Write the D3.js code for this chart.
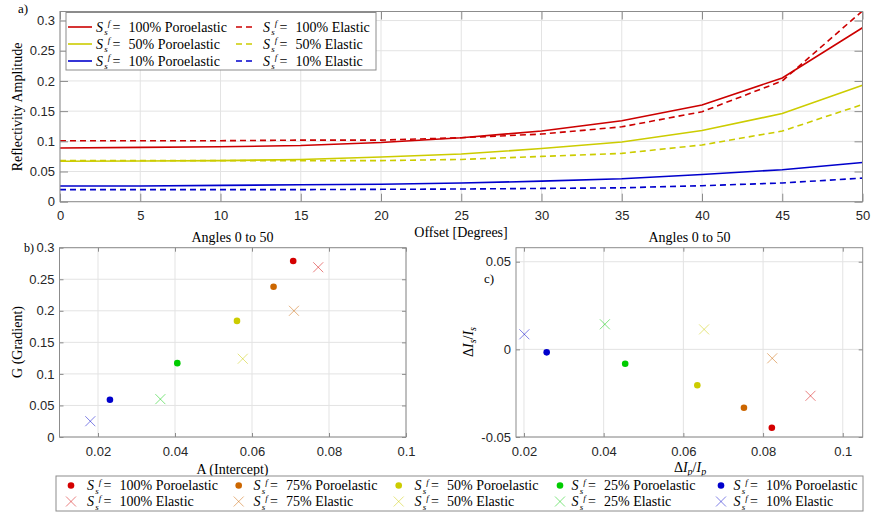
<!DOCTYPE html>
<html><head><meta charset="utf-8">
<script src="https://cdn.jsdelivr.net/npm/d3@7"></script>
<style>
html,body{margin:0;padding:0;background:#fff;}
svg{display:block;}
</style></head>
<body>
<svg id="chart" width="873" height="515"></svg>
<script>
// ---------- DATA ----------
const angles = [0,5,10,15,20,25,30,35,40,45,50];
const poro100 = [0.089,0.090,0.091,0.093,0.098,0.106,0.117,0.134,0.160,0.205,0.288];
const elas100 = [0.101,0.101,0.101,0.102,0.102,0.106,0.112,0.124,0.149,0.200,0.316];
const poro50  = [0.067,0.0675,0.068,0.070,0.074,0.079,0.088,0.099,0.118,0.146,0.193];
const elas50  = [0.068,0.068,0.068,0.068,0.068,0.070,0.075,0.080,0.094,0.117,0.161];
const poro10  = [0.026,0.026,0.027,0.028,0.029,0.031,0.034,0.038,0.045,0.053,0.065];
const elas10  = [0.020,0.020,0.020,0.020,0.0205,0.021,0.022,0.023,0.0265,0.031,0.039];

const topSat = [100,50,10];
const scatSat = [100,75,50,25,10];

const bPoroA = [0.0707,0.0656,0.0561,0.0406,0.0231];
const bPoroG = [0.279,0.238,0.184,0.117,0.059];
const bElasA = [0.0772,0.0709,0.0576,0.0362,0.018];
const bElasG = [0.269,0.200,0.124,0.060,0.025];

const cPoroX = [0.0822,0.0752,0.0635,0.0454,0.0257];
const cPoroY = [-0.0447,-0.0333,-0.0205,-0.0082,-0.0017];
const cElasX = [0.0919,0.0823,0.0652,0.0403,0.0201];
const cElasY = [-0.0265,-0.0051,0.0114,0.0143,0.0086];

const topXTicks = [0,5,10,15,20,25,30,35,40,45,50];
const topYTicks = [0,0.05,0.1,0.15,0.2,0.25,0.3];
const bXTicks = [0.02,0.04,0.06,0.08,0.1];
const bYTicks = [0,0.05,0.1,0.15,0.2,0.25,0.3];
const cXTicks = [0.02,0.04,0.06,0.08,0.1];
const cYTicks = [-0.05,0,0.05];

// ---------- STYLE ----------
const topColors = ['#cc0000','#cccc00','#0000cc'];
const scatColors = ['#d40000','#cc6600','#cccc00','#00cc00','#0000cc'];
const SERIF = "'Liberation Serif','Times New Roman',serif";
const SANS = "'Liberation Sans',Arial,sans-serif";
const AX = '#8c8c8c', TXT = '#262626', GRID = '#e3e3e3';

const svg = d3.select('#chart');

function fmt(v){ return (Math.round(v*1000)/1000).toString(); }

function drawGrid(g, x, y, xt, yt){
  const [x0,x1] = x.range(), [y1,y0] = y.range();
  g.append('g').selectAll('line').data(xt).join('line')
    .attr('x1',d=>x(d)).attr('x2',d=>x(d)).attr('y1',y0).attr('y2',y1)
    .attr('stroke',GRID).attr('stroke-width',1);
  g.append('g').selectAll('line').data(yt).join('line')
    .attr('y1',d=>y(d)).attr('y2',d=>y(d)).attr('x1',x0).attr('x2',x1)
    .attr('stroke',GRID).attr('stroke-width',1);
}
function drawFrame(g, x, y, xt, yt, tl, padB){
  const [x0,x1] = x.range(), [y1,y0] = y.range();
  const axB = d3.axisBottom(x).tickValues(xt).tickSizeInner(-tl).tickSizeOuter(0).tickPadding(padB).tickFormat(fmt);
  const axT = d3.axisTop(x).tickValues(xt).tickSizeInner(-tl).tickSizeOuter(0).tickFormat('');
  const axL = d3.axisLeft(y).tickValues(yt).tickSizeInner(-tl).tickSizeOuter(0).tickPadding(5).tickFormat(fmt);
  const axR = d3.axisRight(y).tickValues(yt).tickSizeInner(-tl).tickSizeOuter(0).tickFormat('');
  const style = s => { s.select('.domain').remove(); s.selectAll('line').attr('stroke',AX);
    s.selectAll('text').attr('fill',TXT).style('font-family',SANS).style('font-size','13px'); };
  g.append('g').attr('transform',`translate(0,${y1})`).call(axB).call(style);
  g.append('g').attr('transform',`translate(0,${y0})`).call(axT).call(style);
  g.append('g').attr('transform',`translate(${x0},0)`).call(axL).call(style);
  g.append('g').attr('transform',`translate(${x1},0)`).call(axR).call(style);
  g.append('rect').attr('x',x0).attr('y',y0).attr('width',x1-x0).attr('height',y1-y0)
    .attr('fill','none').attr('stroke',AX).attr('stroke-width',1);
}

// S_s^f = NN% Kind label, single text element (sub/sup slightly staggered like italic correction)
function satLabel(g, x, y, pct, kind){
  const t = g.append('text').attr('x',x).attr('y',y).style('font-family',SERIF)
    .style('font-size','14px').attr('fill','#000');
  t.append('tspan').attr('x',x).style('font-style','italic').text('S');
  t.append('tspan').attr('x',x+8.3).attr('dy',3.5).style('font-style','italic').style('font-size','9px').text('s');
  t.append('tspan').attr('x',x+11.8).attr('dy',-9).style('font-style','italic').style('font-size','9px').text('f');
  t.append('tspan').attr('x',x+16.5).attr('dy',5.5).text('=');
  t.append('tspan').attr('x',x+32.5).text(pct+'% '+kind);
}

// ---------- PANEL a ----------
const ax = d3.scaleLinear().domain([0,50]).range([60,862.5]);
const ay = d3.scaleLinear().domain([0,0.315]).range([201.7,11.5]);
const ga = svg.append('g');
drawGrid(ga, ax, ay, topXTicks, topYTicks);
svg.append('clipPath').attr('id','clipA').append('rect')
  .attr('x',60).attr('y',11.5).attr('width',802.5).attr('height',190.2);
const lineGen = d3.line().x((d,i)=>ax(angles[i])).y(d=>ay(d));
const topSeries = [
  {v:poro100,c:0,dash:null},{v:elas100,c:0,dash:'6,4'},
  {v:poro50,c:1,dash:null},{v:elas50,c:1,dash:'6,4'},
  {v:poro10,c:2,dash:null},{v:elas10,c:2,dash:'6,4'}];
const lg = ga.append('g').attr('clip-path','url(#clipA)');
topSeries.forEach(s=>{
  lg.append('path').attr('d',lineGen(s.v)).attr('fill','none')
    .attr('stroke',topColors[s.c]).attr('stroke-width',1.6)
    .attr('stroke-dasharray',s.dash);
});
drawFrame(ga, ax, ay, topXTicks, topYTicks, 8, 9);

// legend a
const legA = svg.append('g');
legA.append('rect').attr('x',66).attr('y',12.5).attr('width',310).attr('height',57.5)
  .attr('fill','#fff').attr('stroke',AX).attr('stroke-width',1);
topSat.forEach((p,i)=>{
  const yy = 27 + i*17;
  legA.append('line').attr('x1',68).attr('x2',92).attr('y1',yy).attr('y2',yy)
    .attr('stroke',topColors[i]).attr('stroke-width',1.6);
  satLabel(legA, 96, yy+4.5, p, 'Poroelastic');
  legA.append('line').attr('x1',236).attr('x2',256).attr('y1',yy).attr('y2',yy)
    .attr('stroke',topColors[i]).attr('stroke-width',1.6).attr('stroke-dasharray','6,4');
  satLabel(legA, 263, yy+4.5, p, 'Elastic');
});

svg.append('text').attr('x',461).attr('y',237).attr('text-anchor','middle')
  .style('font-family',SERIF).style('font-size','14px').text('Offset [Degrees]');
svg.append('text').attr('transform','translate(22,107) rotate(-90)').attr('text-anchor','middle')
  .style('font-family',SERIF).style('font-size','14px').text('Reflectivity Amplitude');
svg.append('text').attr('x',18).attr('y',13).style('font-family',SERIF).style('font-size','13px').text('a)');

// ---------- PANEL b ----------
const bx = d3.scaleLinear().domain([0.01,0.1]).range([59.5,406]);
const by = d3.scaleLinear().domain([0,0.3]).range([437,247.7]);
const gb = svg.append('g');
drawGrid(gb, bx, by, bXTicks, bYTicks);
drawFrame(gb, bx, by, bXTicks, bYTicks, 4, 10);

function xMark(g, cx, cy, col, r){
  g.append('path').attr('d',`M${cx-r},${cy-r}L${cx+r},${cy+r}M${cx-r},${cy+r}L${cx+r},${cy-r}`)
    .attr('stroke',col).attr('stroke-width',1).attr('stroke-opacity',0.5).attr('fill','none');
}
scatSat.forEach((p,i)=>{
  xMark(gb, bx(bElasA[i]), by(bElasG[i]), scatColors[i], 5);
  gb.append('circle').attr('cx',bx(bPoroA[i])).attr('cy',by(bPoroG[i])).attr('r',3.3).attr('fill',scatColors[i]);
});
svg.append('text').attr('x',232.5).attr('y',242).attr('text-anchor','middle')
  .style('font-family',SERIF).style('font-size','14px').text('Angles 0 to 50');
svg.append('text').attr('x',232.5).attr('y',474).attr('text-anchor','middle')
  .style('font-family',SERIF).style('font-size','14px').text('A (Intercept)');
svg.append('text').attr('transform','translate(22,342) rotate(-90)').attr('text-anchor','middle')
  .style('font-family',SERIF).style('font-size','14px').text('G (Gradient)');
svg.append('text').attr('x',24).attr('y',252).style('font-family',SERIF).style('font-size','12px').text('b)');

// ---------- PANEL c ----------
const cx = d3.scaleLinear().domain([0.018,0.105]).range([516,862.7]);
const cy = d3.scaleLinear().domain([-0.05,0.058]).range([437,247.7]);
const gc = svg.append('g');
drawGrid(gc, cx, cy, cXTicks, cYTicks);
drawFrame(gc, cx, cy, cXTicks, cYTicks, 4, 10);
scatSat.forEach((p,i)=>{
  xMark(gc, cx(cElasX[i]), cy(cElasY[i]), scatColors[i], 5);
  gc.append('circle').attr('cx',cx(cPoroX[i])).attr('cy',cy(cPoroY[i])).attr('r',3.3).attr('fill',scatColors[i]);
});
svg.append('text').attr('x',689.5).attr('y',242).attr('text-anchor','middle')
  .style('font-family',SERIF).style('font-size','14px').text('Angles 0 to 50');
// x label ΔI_p/I_p
const xl = svg.append('text').attr('x',690).attr('y',472).attr('text-anchor','middle')
  .style('font-family',SERIF).style('font-size','14px');
xl.append('tspan').text('Δ');
xl.append('tspan').style('font-style','italic').text('I');
xl.append('tspan').style('font-style','italic').style('font-size','10px').attr('dy',3).text('p');
xl.append('tspan').attr('dy',-3).text('/');
xl.append('tspan').style('font-style','italic').text('I');
xl.append('tspan').style('font-style','italic').style('font-size','10px').attr('dy',3).text('p');
const yl = svg.append('text').attr('transform','translate(473,342) rotate(-90)').attr('text-anchor','middle')
  .style('font-family',SERIF).style('font-size','14px');
yl.append('tspan').text('Δ');
yl.append('tspan').style('font-style','italic').text('I');
yl.append('tspan').style('font-style','italic').style('font-size','10px').attr('dy',3).text('s');
yl.append('tspan').attr('dy',-3).text('/');
yl.append('tspan').style('font-style','italic').text('I');
yl.append('tspan').style('font-style','italic').style('font-size','10px').attr('dy',3).text('s');
svg.append('text').attr('x',484).attr('y',283).style('font-family',SERIF).style('font-size','13px').text('c)');

// ---------- bottom legend ----------
const legB = svg.append('g');
legB.append('rect').attr('x',56).attr('y',476).attr('width',807).attr('height',35)
  .attr('fill','#fff').attr('stroke',AX).attr('stroke-width',1);
const markX = [71,238.7,398.7,560,721];
const textX = [87,253.5,414.5,571.5,733.5];
scatSat.forEach((p,i)=>{
  legB.append('circle').attr('cx',markX[i]).attr('cy',485.5).attr('r',3.3).attr('fill',scatColors[i]);
  satLabel(legB, textX[i], 490, p, 'Poroelastic');
  xMark(legB, markX[i], 501.5, scatColors[i], 5);
  satLabel(legB, textX[i], 506, p, 'Elastic');
});
</script>
</body></html>
